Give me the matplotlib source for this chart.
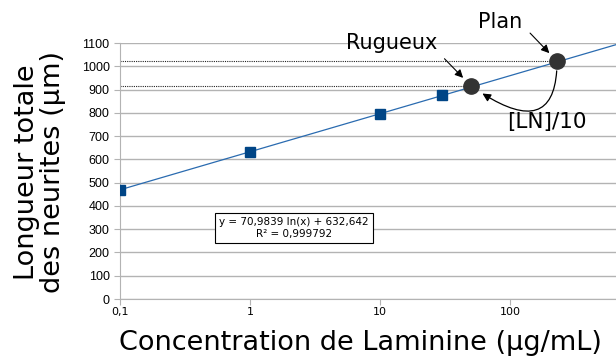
import matplotlib
matplotlib.use("Agg")
import matplotlib.pyplot as plt
import numpy as np

# donnees
conc = [0.1, 1, 10, 30]
longueur = [470, 630, 797, 875]
surf_noms = ["Rugueux", "Plan"]
surf_conc = [50, 230]
surf_long = [916, 1022]
a, b = 70.9839, 632.642
yticks = list(range(0, 1101, 100))
xticks = [0.1, 1, 10, 100]
xticklabels = ["0,1", "1", "10", "100"]

fig = plt.figure(figsize=(6.16, 3.57), dpi=100)
ax = fig.add_axes([120/616, 1-299/357, 1-120/616, 256/357])

xmax = 10**(2 + 106/130)
xx = np.logspace(-1, np.log10(xmax), 200)
ax.plot(xx, a*np.log(xx) + b, color="#2a6bb0", lw=0.9, zorder=2)
ax.plot(conc, longueur, "s", color="#004586", ms=7, zorder=3)

# pointilles horizontaux vers les surfaces
for c, l in zip(surf_conc, surf_long):
    ax.plot([0.1, c], [l, l], ls=(0, (1, 1)), color="#222222", lw=0.8, zorder=2)
ax.plot(surf_conc, surf_long, "o", color="#333333", ms=11, zorder=4)

ax.set_xscale("log")
ax.set_xlim(0.1, xmax)
ax.set_ylim(0, 1100)
ax.set_yticks(yticks)
ax.set_xticks(xticks)
ax.set_xticklabels(xticklabels)
ax.minorticks_off()
ax.yaxis.grid(True, color="#b3b3b3", lw=1)
ax.set_axisbelow(True)
for s in ["top", "right"]:
    ax.spines[s].set_visible(False)
for s in ["left", "bottom"]:
    ax.spines[s].set_color("#b3b3b3")
ax.tick_params(colors="#b3b3b3", labelcolor="black", labelsize=8, length=4)
ax.tick_params(axis="x", pad=2)
for t in ax.get_yticklabels():
    t.set_fontfamily("Liberation Sans")
    t.set_fontsize(9)

# titres des axes
fig.text(40/616, 1-172/357, "Longueur totale\ndes neurites (µm)", fontsize=19.5,
         rotation=90, ha="center", va="center", linespacing=1.0)
fig.text(360/616, 1-343/357, "Concentration de Laminine (µg/mL)", fontsize=19.5,
         ha="center", va="center")

ax.text((294-120)/496, (299-228)/256, "y = 70,9839 ln(x) + 632,642\nR² = 0,999792",
        transform=ax.transAxes, fontsize=7.5, ha="center", va="center",
        multialignment="center",
        bbox=dict(boxstyle="square,pad=0.4", fc="white", ec="black", lw=0.8))

# annotations
ap = dict(arrowstyle="-|>", color="black", lw=0.8, mutation_scale=12, shrinkA=0, shrinkB=8)
ax.annotate(surf_noms[0], xy=(surf_conc[0], surf_long[0]), xytext=(-57, 31),
            textcoords="offset points", fontsize=15, ha="center", va="center")
ax.annotate("", xy=(surf_conc[0], surf_long[0]), xytext=(-19, 19.5),
            textcoords="offset points", arrowprops=ap)
ax.annotate(surf_noms[1], xy=(surf_conc[1], surf_long[1]), xytext=(-41, 28),
            textcoords="offset points", fontsize=15, ha="center", va="center")
ax.annotate("", xy=(surf_conc[1], surf_long[1]), xytext=(-19.4, 20.2),
            textcoords="offset points", arrowprops=ap)
ax.annotate("", xy=(surf_conc[0], surf_long[0]), xytext=(surf_conc[1], surf_long[1]),
            arrowprops=dict(arrowstyle="-|>", color="black", lw=0.9, mutation_scale=12,
                            shrinkA=7, shrinkB=10,
                            connectionstyle="angle3,angleA=-90,angleB=-35"))
fig.text(547/616, 1-122/357, "[LN]/10", fontsize=15.5, ha="center", va="center")

fig.savefig("out.png", dpi=100)
